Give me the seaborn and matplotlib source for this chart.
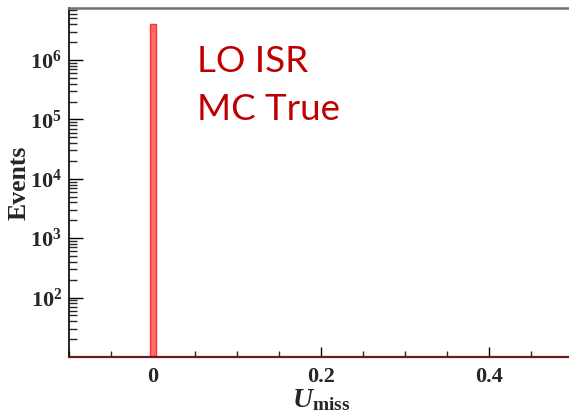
import numpy as np
import pandas as pd
import matplotlib
matplotlib.use("Agg")
import matplotlib.pyplot as plt
import matplotlib.ticker as mticker
import matplotlib.transforms as mtransforms
import seaborn as sns

# --- Data ---
u_miss_values = [0.0]          # bin centre of the only filled bin
event_counts = [4.0e6]         # events in that bin
x_range = (-0.1, 0.5)
bin_width = 0.008
y_range = (10, 7.5e6)
x_major_ticks = [0.0, 0.2, 0.4]
x_tick_labels = ["0", "0.2", "0.4"]
y_major_ticks = [1e2, 1e3, 1e4, 1e5, 1e6]
annotation_lines = ["LO ISR", "MC True"]

sns.set_style("ticks")
plt.rcParams["mathtext.fontset"] = "custom"
plt.rcParams["mathtext.rm"] = "Liberation Serif:bold"
plt.rcParams["mathtext.bf"] = "Liberation Serif:bold"
plt.rcParams["mathtext.it"] = "Liberation Serif:italic:bold"
plt.rcParams["font.family"] = ["Liberation Serif"]
plt.rcParams["font.weight"] = "bold"

fig = plt.figure(figsize=(5.69, 4.17), dpi=100)
ax = fig.add_axes([69 / 569, 1 - 357 / 417, 504 / 569, 349 / 417])

df = pd.DataFrame({"u_miss": u_miss_values, "events": event_counts})
sns.histplot(data=df, x="u_miss", weights="events", binwidth=bin_width,
             binrange=x_range, ax=ax,
             color="#ff6a6a", edgecolor="#ff3030", linewidth=1.0, alpha=1.0)

ax.set_yscale("log")
ax.set_xlim(*x_range)
ax.set_ylim(*y_range)

# axis ticks, ROOT style (inside)
ax.set_xticks(x_major_ticks)
ax.set_xticklabels(x_tick_labels)
ax.xaxis.set_minor_locator(mticker.MultipleLocator(0.05))
ax.set_yticks(y_major_ticks)
ax.yaxis.set_major_formatter(mticker.LogFormatterMathtext())
ax.yaxis.set_minor_locator(mticker.LogLocator(base=10, subs=np.arange(2, 10)))
ax.yaxis.set_minor_formatter(mticker.NullFormatter())
ax.tick_params(axis="both", which="major", direction="in", labelsize=16,
               color="black", width=1.0)
ax.tick_params(axis="y", which="major", length=10, pad=5)
ax.tick_params(axis="y", which="minor", direction="in", length=5.5, width=1.0)
ax.tick_params(axis="x", which="major", length=7, pad=7)
ax.tick_params(axis="x", which="minor", direction="in", length=4, width=1.0)
ax.tick_params(top=False, right=False)

for lbl in ax.get_xticklabels() + ax.get_yticklabels():
    lbl.set_fontweight("bold")

ax.spines["left"].set_color("black")
ax.spines["left"].set_linewidth(1.2)
ax.spines["bottom"].set_color("#6b1a1a")
ax.spines["bottom"].set_linewidth(1.6)
ax.spines["top"].set_color("#707070")
ax.spines["top"].set_linewidth(1.8)
ax.spines["right"].set_visible(False)

ax.set_ylabel("Events", fontsize=18.5, fontweight="bold", labelpad=0)
ax.set_xlabel(r"$U_{\mathrm{miss}}$", fontsize=20, labelpad=0)

trans = mtransforms.blended_transform_factory(ax.transData, ax.transAxes)
for line, y in zip(annotation_lines, [0.817, 0.679]):
    ax.text(0.052, y, line, transform=trans, fontsize=26.5, color="#c00000",
            family="Lato", fontweight="normal", ha="left", va="baseline")

fig.savefig("out.png", dpi=100)
